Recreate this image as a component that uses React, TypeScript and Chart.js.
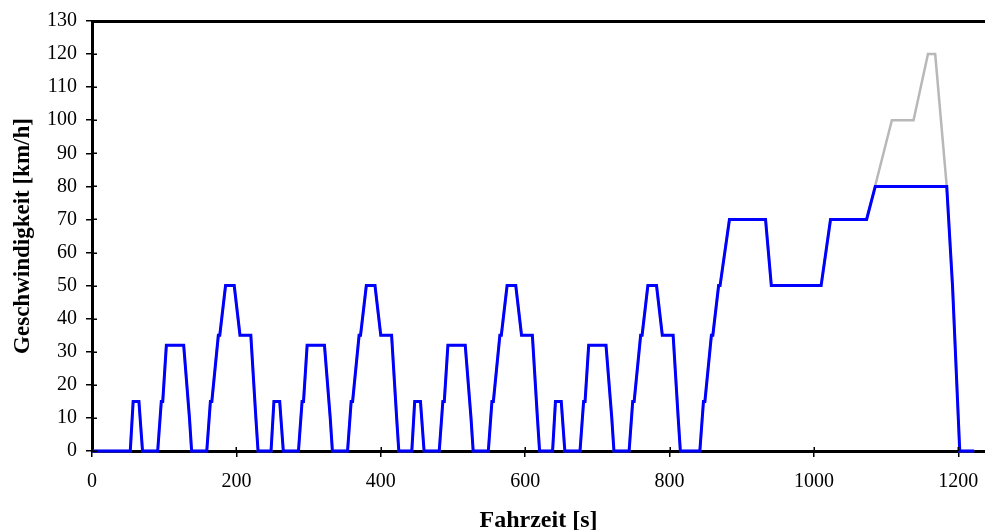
import React, { useEffect, useRef } from "react";
import { Chart, registerables } from "chart.js";

Chart.register(...registerables);

// Time [s] and speed [km/h] shared by both curves (4 x ECE-15 urban cycle + start of EUDC)
const commonTime = [
  0,
  53, 57, 65, 70, 91, 96, 98, 103, 127, 135, 138, 159, 164, 166, 175, 177, 185, 197, 205, 220, 227, 230,
  248, 252, 260, 265, 286, 291, 293, 298, 322, 330, 333, 354, 359, 361, 370, 372, 380, 392, 400, 415, 422, 425,
  443, 447, 455, 460, 481, 486, 488, 493, 517, 525, 528, 549, 554, 556, 565, 567, 575, 587, 595, 610, 617, 620,
  638, 642, 650, 655, 676, 681, 683, 688, 712, 720, 723, 744, 749, 751, 760, 762, 770, 782, 790, 805, 812, 815,
  842, 847, 849, 858, 860, 868, 870, 883, 933, 941, 1010, 1023, 1073,
];
const commonSpeed = [
  0,
  0, 15, 15, 0, 0, 15, 15, 32, 32, 10, 0, 0, 15, 15, 35, 35, 50, 50, 35, 35, 10, 0,
  0, 15, 15, 0, 0, 15, 15, 32, 32, 10, 0, 0, 15, 15, 35, 35, 50, 50, 35, 35, 10, 0,
  0, 15, 15, 0, 0, 15, 15, 32, 32, 10, 0, 0, 15, 15, 35, 35, 50, 50, 35, 35, 10, 0,
  0, 15, 15, 0, 0, 15, 15, 32, 32, 10, 0, 0, 15, 15, 35, 35, 50, 50, 35, 35, 10, 0,
  0, 15, 15, 35, 35, 50, 50, 70, 70, 50, 50, 70, 70,
];

// Blue curve: limited to 80 km/h
const blueTailTime = [1085, 1184, 1192, 1202, 1222];
const blueTailSpeed = [80, 80, 50, 0, 0];

// Grey curve: full EUDC up to 120 km/h
const grayTailTime = [1108, 1138, 1158, 1168, 1184, 1192, 1202, 1222];
const grayTailSpeed = [100, 100, 120, 120, 80, 50, 0, 0];

const xTitle = "Fahrzeit [s]";
const yTitle = "Geschwindigkeit [km/h]";
const xTicks = [0, 200, 400, 600, 800, 1000, 1200];
const yTicks = [0, 10, 20, 30, 40, 50, 60, 70, 80, 90, 100, 110, 120, 130];
const X_MIN = 0;
const X_MAX = 1237;
const Y_MIN = 0;
const Y_MAX = 130;

const toPoints = (t: number[], v: number[]) => t.map((x, i) => ({ x, y: v[i] }));

const innerTicks = {
  id: "innerTicks",
  afterDraw(chart: any) {
    const { ctx, chartArea, scales } = chart;
    ctx.save();
    ctx.strokeStyle = "#000";
    ctx.lineWidth = 1.5;
    ctx.beginPath();
    scales.y.ticks.forEach((t: any) => {
      const p = Math.round(scales.y.getPixelForValue(t.value)) + 0.25;
      ctx.moveTo(chartArea.left, p);
      ctx.lineTo(chartArea.left + 5, p);
    });
    scales.x.ticks.forEach((t: any) => {
      const p = Math.round(scales.x.getPixelForValue(t.value)) + 0.25;
      ctx.moveTo(p, chartArea.bottom);
      ctx.lineTo(p, chartArea.bottom - 4);
    });
    ctx.stroke();
    ctx.restore();
  },
};

export default function App() {
  const ref = useRef<HTMLCanvasElement>(null);
  useEffect(() => {
    document.body.style.margin = "0";
    Chart.defaults.font.family = "'Liberation Serif', 'Times New Roman', serif";
    const chart = new Chart(ref.current!, {
      type: "line",
      data: {
        datasets: [
          {
            label: "80 km/h",
            data: toPoints(commonTime.concat(blueTailTime), commonSpeed.concat(blueTailSpeed)),
            borderColor: "#0000ff",
            borderWidth: 3,
            pointRadius: 0,
            tension: 0,
            clip: false as any,
            xAxisID: "x",
            yAxisID: "y",
          },
          {
            label: "120 km/h",
            data: toPoints(commonTime.concat(grayTailTime), commonSpeed.concat(grayTailSpeed)),
            borderColor: "#b8b8b8",
            borderWidth: 2.5,
            pointRadius: 0,
            tension: 0,
            clip: false as any,
            xAxisID: "x",
            yAxisID: "y",
          },
        ],
      },
      options: {
        animation: false,
        responsive: true,
        maintainAspectRatio: false,
        layout: { padding: { top: 17, left: 0, right: 0, bottom: 0 } },
        plugins: { legend: { display: false }, tooltip: { enabled: false } },
        scales: {
          x: {
            type: "linear",
            position: "bottom",
            min: X_MIN,
            max: X_MAX,
            afterBuildTicks: (s: any) => {
              s.ticks = xTicks.map((value) => ({ value }));
            },
            ticks: {
              color: "#000",
              font: { size: 20 },
              padding: 13,
              maxRotation: 0,
              autoSkip: false,
              callback: (v: any) => String(v),
            },
            grid: { display: true, drawOnChartArea: false, drawTicks: true, tickLength: 6, color: "#000", lineWidth: 1.5 },
            border: { display: true, color: "#000", width: 3 },
            title: {
              display: true,
              text: xTitle,
              color: "#000",
              font: { size: 24, weight: "bold", lineHeight: 0.8 },
              padding: 0,
            },
            afterFit: (s: any) => {
              s.height = 79;
              s.paddingLeft = 0;
              s.paddingRight = 0;
            },
          },
          x2: {
            type: "linear",
            position: "top",
            min: X_MIN,
            max: X_MAX,
            ticks: { display: false },
            grid: { display: false },
            border: { display: true, color: "#000", width: 3 },
            afterFit: (s: any) => {
              s.height = 0;
              s.paddingLeft = 0;
              s.paddingRight = 0;
            },
          },
          y: {
            type: "linear",
            min: Y_MIN,
            max: Y_MAX,
            afterBuildTicks: (s: any) => {
              s.ticks = yTicks.map((value) => ({ value }));
            },
            ticks: { color: "#000", font: { size: 20 }, padding: 9, autoSkip: false, callback: (v: any) => String(v) },
            grid: { display: true, drawOnChartArea: false, drawTicks: true, tickLength: 6, color: "#000", lineWidth: 1.5 },
            border: { display: true, color: "#000", width: 3 },
            title: {
              display: true,
              text: yTitle,
              color: "#000",
              font: { size: 23, weight: "bold" },
              padding: { top: 9, bottom: 0 },
            },
            afterFit: (s: any) => {
              s.width = 92;
            },
          },
        },
      } as any,
      plugins: [innerTicks],
    });
    return () => chart.destroy();
  }, []);
  return (
    <div style={{ width: 985, height: 530, position: "relative" }}>
      <canvas ref={ref} />
    </div>
  );
}
